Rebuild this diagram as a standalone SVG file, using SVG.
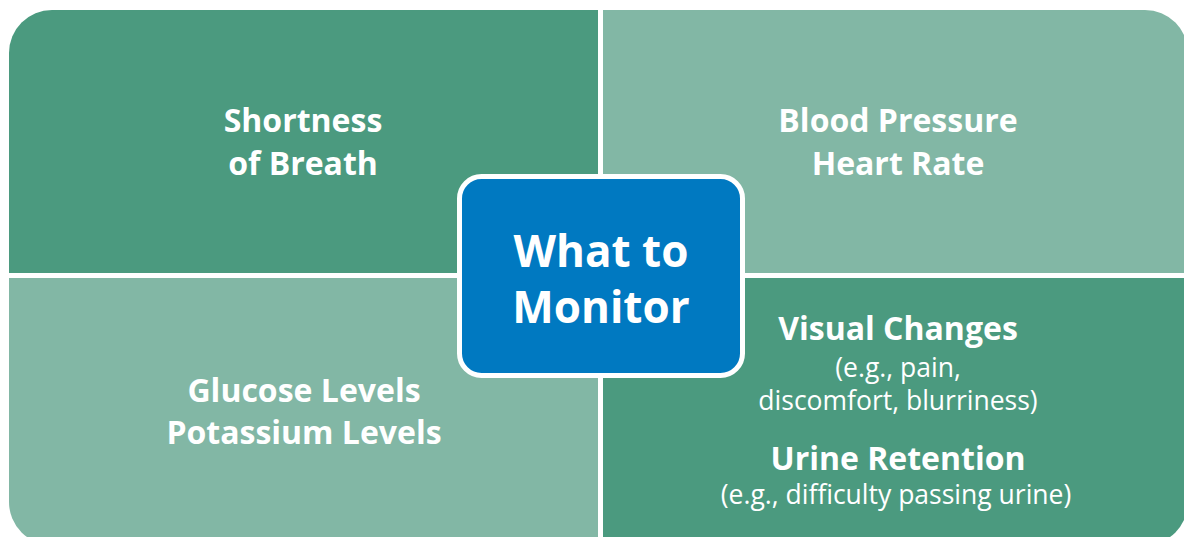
<svg xmlns="http://www.w3.org/2000/svg" width="1184" height="537" viewBox="0 0 1184 537">
<defs>
<clipPath id="outer"><rect x="9" y="10" width="1179" height="535" rx="43" ry="43"/></clipPath>
<style>
.dark{fill:#4b9a7f}
.light{fill:#82b7a5}
.h{font-family:"Open Sans","Liberation Sans",sans-serif;font-weight:700;fill:#fff;text-anchor:middle}
.q{font-size:32px}
.r{font-family:"Open Sans","Liberation Sans",sans-serif;font-weight:400;fill:#fff;text-anchor:middle;font-size:26.5px}
.c{font-size:44px}
</style>
</defs>
<rect width="1184" height="537" fill="#fff"/>
<g clip-path="url(#outer)">
<g id="q-shortness">
<rect class="dark" x="0" y="0" width="598" height="273"/>
<text class="h q" x="303" y="132">Shortness</text>
<text class="h q" x="303" y="175">of Breath</text>
</g>
<g id="q-blood">
<rect class="light" x="603" y="0" width="600" height="273"/>
<text class="h q" x="898" y="132">Blood Pressure</text>
<text class="h q" x="898" y="175">Heart Rate</text>
</g>
<g id="q-glucose">
<rect class="light" x="0" y="278" width="598" height="280"/>
<text class="h q" x="304" y="402">Glucose Levels</text>
<text class="h q" x="304" y="444">Potassium Levels</text>
</g>
<g id="q-visual">
<rect class="dark" x="603" y="278" width="600" height="280"/>
<text class="h q" x="898" y="340">Visual Changes</text>
<text class="r" x="898" y="377">(e.g., pain,</text>
<text class="r" x="898" y="410">discomfort, blurriness)</text>
<text class="h q" x="898" y="470">Urine Retention</text>
<text class="r" x="896" y="504">(e.g., difficulty passing urine)</text>
</g>
</g>
<g id="center">
<rect x="459.5" y="176.5" width="283" height="199" rx="22" ry="22" fill="#0079c1" stroke="#fff" stroke-width="5"/>
<text class="h c" x="601" y="267">What to</text>
<text class="h c" x="601" y="323">Monitor</text>
</g>
<g id="connectors"/>
</svg>
